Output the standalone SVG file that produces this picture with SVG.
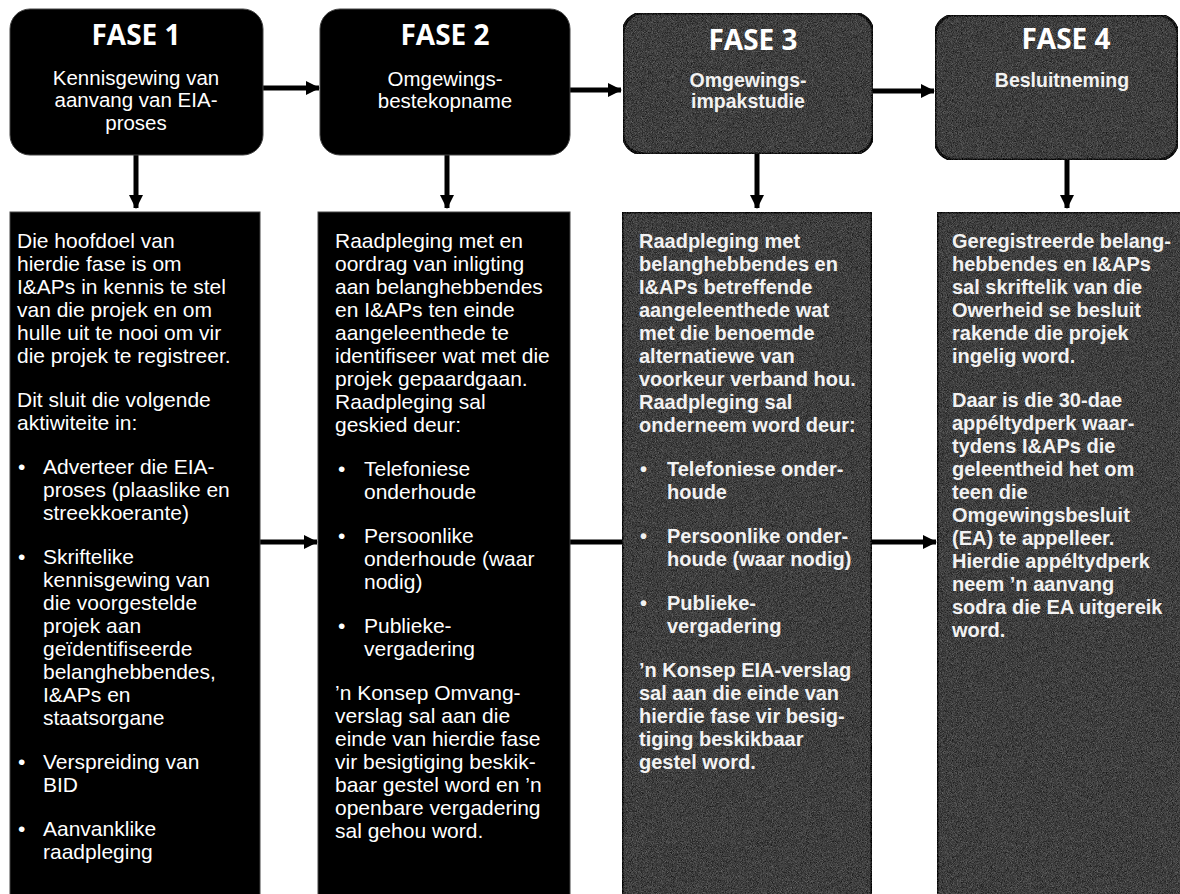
<svg xmlns="http://www.w3.org/2000/svg" width="1180" height="894" viewBox="0 0 1180 894">
<defs>
<style>
.blk{fill:#000;stroke:#444;stroke-width:1}
.gry{fill:#3e3e3e;stroke:#111;stroke-width:3}
.ttl{font-family:"Open Sans","Liberation Sans",sans-serif;font-weight:700;font-size:28px;fill:#fff;text-anchor:middle}
.sub{font-family:"Liberation Sans",Arial,sans-serif;font-size:20.5px;fill:#fff;text-anchor:middle}
.subb{font-family:"Liberation Sans",Arial,sans-serif;font-size:19.5px;font-weight:700;fill:#f2f2f2;text-anchor:middle}
.bd{font-family:"Liberation Sans",Arial,sans-serif;font-size:21px;fill:#fff}
.bdb{font-family:"Liberation Sans",Arial,sans-serif;font-size:20px;font-weight:700;fill:#f2f2f2}
.con{stroke:#000;stroke-width:5;fill:none}
</style>
<marker id="ah" markerUnits="userSpaceOnUse" markerWidth="16" markerHeight="16" refX="13" refY="8" orient="auto">
<path d="M0,1 L14,8 L0,15 Z" fill="#000"/>
</marker>
<filter id="grain" x="0" y="0" width="100%" height="100%" color-interpolation-filters="sRGB">
<feTurbulence type="fractalNoise" baseFrequency="1.2" numOctaves="2" seed="4" result="n"/>
<feColorMatrix in="n" type="matrix" values="1 0 0 0 0 1 0 0 0 0 1 0 0 0 0 0 0 0 0 1" result="g"/>
<feComposite in="SourceGraphic" in2="g" operator="arithmetic" k1="0" k2="1" k3="0.45" k4="-0.225" result="m"/>
<feComposite in="m" in2="SourceAlpha" operator="in"/>
</filter>
</defs>

<g id="connectors">
<line class="con" x1="136" y1="155" x2="136" y2="208" marker-end="url(#ah)"/>
<line class="con" x1="447" y1="155" x2="447" y2="208" marker-end="url(#ah)"/>
<line class="con" x1="757" y1="154" x2="757" y2="208" marker-end="url(#ah)"/>
<line class="con" x1="1067" y1="160" x2="1067" y2="208" marker-end="url(#ah)"/>
<line class="con" x1="263" y1="88" x2="319" y2="88" marker-end="url(#ah)"/>
<line class="con" x1="570" y1="90" x2="621" y2="90" marker-end="url(#ah)"/>
<line class="con" x1="873" y1="91" x2="934" y2="91" marker-end="url(#ah)"/>
<line class="con" x1="260" y1="542" x2="317" y2="542" marker-end="url(#ah)"/>
<line class="con" x1="570" y1="542" x2="622" y2="542"/>
<line class="con" x1="872" y1="542" x2="936" y2="542" marker-end="url(#ah)"/>
</g>

<g id="fase1">
<rect class="blk" x="10" y="9" width="253" height="146" rx="20"/>
<text class="ttl" x="136" y="45">FASE 1</text>
<text class="sub"><tspan x="136" y="85">Kennisgewing van</tspan><tspan x="136" y="107">aanvang van EIA-</tspan><tspan x="136" y="130">proses</tspan></text>
</g>
<g id="fase2">
<rect class="blk" x="320" y="9" width="250" height="146" rx="20"/>
<text class="ttl" x="445" y="45">FASE 2</text>
<text class="sub"><tspan x="445" y="86">Omgewings-</tspan><tspan x="445" y="108">bestekopname</tspan></text>
</g>
<g id="fase3">
<rect class="gry" x="623" y="13" width="250" height="141" rx="20" filter="url(#grain)"/>
<text class="ttl" x="753" y="50">FASE 3</text>
<text class="subb"><tspan x="748" y="87">Omgewings-</tspan><tspan x="748" y="108">impakstudie</tspan></text>
</g>
<g id="fase4">
<rect class="gry" x="935" y="15" width="243" height="145" rx="20" filter="url(#grain)"/>
<text class="ttl" x="1066" y="49">FASE 4</text>
<text class="subb"><tspan x="1062" y="87">Besluitneming</tspan></text>
</g>

<g id="detail1">
<rect class="blk" x="10" y="212" width="250" height="690"/>
<text class="bd">
<tspan x="17" y="248">Die hoofdoel van</tspan>
<tspan x="17" y="271">hierdie fase is om</tspan>
<tspan x="17" y="294">I&amp;APs in kennis te stel</tspan>
<tspan x="17" y="317">van die projek en om</tspan>
<tspan x="17" y="340">hulle uit te nooi om vir</tspan>
<tspan x="17" y="363">die projek te registreer.</tspan>
<tspan x="17" y="407">Dit sluit die volgende</tspan>
<tspan x="17" y="430">aktiwiteite in:</tspan>
<tspan x="18" y="474">•</tspan><tspan x="43" y="474">Adverteer die EIA-</tspan>
<tspan x="43" y="497">proses (plaaslike en</tspan>
<tspan x="43" y="520">streekkoerante)</tspan>
<tspan x="18" y="564">•</tspan><tspan x="43" y="564">Skriftelike</tspan>
<tspan x="43" y="587">kennisgewing van</tspan>
<tspan x="43" y="610">die voorgestelde</tspan>
<tspan x="43" y="633">projek aan</tspan>
<tspan x="43" y="656">geïdentifiseerde</tspan>
<tspan x="43" y="679">belanghebbendes,</tspan>
<tspan x="43" y="702">I&amp;APs en</tspan>
<tspan x="43" y="725">staatsorgane</tspan>
<tspan x="18" y="769">•</tspan><tspan x="43" y="769">Verspreiding van</tspan>
<tspan x="43" y="792">BID</tspan>
<tspan x="18" y="836">•</tspan><tspan x="43" y="836">Aanvanklike</tspan>
<tspan x="43" y="859">raadpleging</tspan>
</text>
</g>

<g id="detail2">
<rect class="blk" x="318" y="212" width="252" height="690"/>
<text class="bd">
<tspan x="335" y="248">Raadpleging met en</tspan>
<tspan x="335" y="271">oordrag van inligting</tspan>
<tspan x="335" y="294">aan belanghebbendes</tspan>
<tspan x="335" y="317">en I&amp;APs ten einde</tspan>
<tspan x="335" y="340">aangeleenthede te</tspan>
<tspan x="335" y="363">identifiseer wat met die</tspan>
<tspan x="335" y="386">projek gepaardgaan.</tspan>
<tspan x="335" y="409">Raadpleging sal</tspan>
<tspan x="335" y="432">geskied deur:</tspan>
<tspan x="338" y="476">•</tspan><tspan x="364" y="476">Telefoniese</tspan>
<tspan x="364" y="499">onderhoude</tspan>
<tspan x="338" y="543">•</tspan><tspan x="364" y="543">Persoonlike</tspan>
<tspan x="364" y="566">onderhoude (waar</tspan>
<tspan x="364" y="589">nodig)</tspan>
<tspan x="338" y="633">•</tspan><tspan x="364" y="633">Publieke-</tspan>
<tspan x="364" y="656">vergadering</tspan>
<tspan x="335" y="700">’n Konsep Omvang-</tspan>
<tspan x="335" y="723">verslag sal aan die</tspan>
<tspan x="335" y="746">einde van hierdie fase</tspan>
<tspan x="335" y="769">vir besigtiging beskik-</tspan>
<tspan x="335" y="792">baar gestel word en ’n</tspan>
<tspan x="335" y="815">openbare vergadering</tspan>
<tspan x="335" y="838">sal gehou word.</tspan>
</text>
</g>

<g id="detail3">
<rect class="gry" x="622" y="212" width="250" height="690" filter="url(#grain)"/>
<text class="bdb">
<tspan x="639" y="248">Raadpleging met</tspan>
<tspan x="639" y="271">belanghebbendes en</tspan>
<tspan x="639" y="294">I&amp;APs betreffende</tspan>
<tspan x="639" y="317">aangeleenthede wat</tspan>
<tspan x="639" y="340">met die benoemde</tspan>
<tspan x="639" y="363">alternatiewe van</tspan>
<tspan x="639" y="386">voorkeur verband hou.</tspan>
<tspan x="639" y="409">Raadpleging sal</tspan>
<tspan x="639" y="432">onderneem word deur:</tspan>
<tspan x="640" y="476">•</tspan><tspan x="667" y="476">Telefoniese onder-</tspan>
<tspan x="667" y="499">houde</tspan>
<tspan x="640" y="543">•</tspan><tspan x="667" y="543">Persoonlike onder-</tspan>
<tspan x="667" y="566">houde (waar nodig)</tspan>
<tspan x="640" y="610">•</tspan><tspan x="667" y="610">Publieke-</tspan>
<tspan x="667" y="633">vergadering</tspan>
<tspan x="639" y="677">’n Konsep EIA-verslag</tspan>
<tspan x="639" y="700">sal aan die einde van</tspan>
<tspan x="639" y="723">hierdie fase vir besig-</tspan>
<tspan x="639" y="746">tiging beskikbaar</tspan>
<tspan x="639" y="769">gestel word.</tspan>
</text>
</g>

<g id="detail4">
<rect class="gry" x="937" y="212" width="245" height="690" filter="url(#grain)"/>
<text class="bdb">
<tspan x="952" y="248">Geregistreerde belang-</tspan>
<tspan x="952" y="271">hebbendes en I&amp;APs</tspan>
<tspan x="952" y="294">sal skriftelik van die</tspan>
<tspan x="952" y="317">Owerheid se besluit</tspan>
<tspan x="952" y="340">rakende die projek</tspan>
<tspan x="952" y="363">ingelig word.</tspan>
<tspan x="952" y="407">Daar is die 30-dae</tspan>
<tspan x="952" y="430">appéltydperk waar-</tspan>
<tspan x="952" y="453">tydens I&amp;APs die</tspan>
<tspan x="952" y="476">geleentheid het om</tspan>
<tspan x="952" y="499">teen die</tspan>
<tspan x="952" y="522">Omgewingsbesluit</tspan>
<tspan x="952" y="545">(EA) te appelleer.</tspan>
<tspan x="952" y="568">Hierdie appéltydperk</tspan>
<tspan x="952" y="591">neem ’n aanvang</tspan>
<tspan x="952" y="614">sodra die EA uitgereik</tspan>
<tspan x="952" y="637">word.</tspan>
</text>
</g>
</svg>
